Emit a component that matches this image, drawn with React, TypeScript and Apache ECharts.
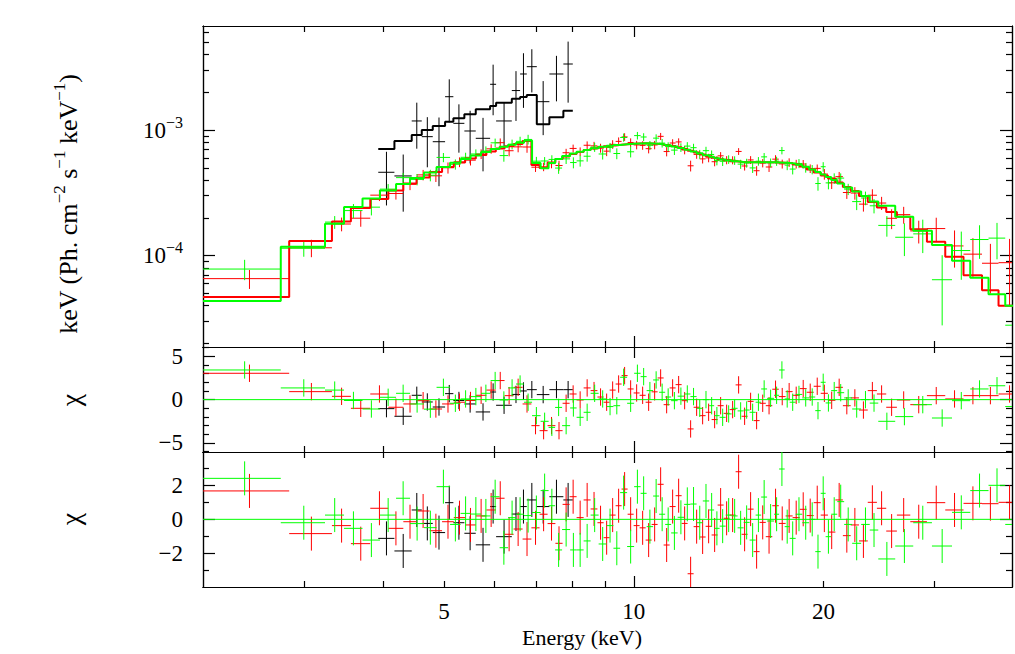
import React, { useEffect, useRef } from 'react';
import * as echarts from 'echarts';

// ---------- axis ranges ----------
const X_MIN_KEV = 2.073;
const X_MAX_KEV = 39.8;
const FLUX_MIN = 1.878e-5;
const FLUX_MAX = 6.72e-3;
const CHI1_MIN = -6.04;
const CHI1_MAX = 6.07;
const CHI2_MIN = -3.98;
const CHI2_MAX = 3.96;
const FLUX_UNIT = 1e-3; // flux arrays are in units of 1e-3 Ph cm^-2 s^-1 keV^-1 (x keV)
const CHI_ERR = 1;

// ---------- tick / label values ----------
const xMinorTicksKeV = [3, 4, 5, 6, 7, 8, 9, 20, 30];
const xMajorTicksKeV = [10];
const xTickLabelsKeV = [5, 10, 20];
const fluxMajorTicks = [1e-4, 1e-3];
const fluxMinorTicks = [2e-5, 3e-5, 4e-5, 5e-5, 6e-5, 7e-5, 8e-5, 9e-5, 2e-4, 3e-4, 4e-4, 5e-4, 6e-4, 7e-4, 8e-4, 9e-4, 2e-3, 3e-3, 4e-3, 5e-3, 6e-3];
const fluxTickLabels = [1e-4, 1e-3];
const chi1Major = [-5, 0, 5];
const chi1Minor = [-6, -4, -3, -2, -1, 1, 2, 3, 4, 6];
const chi1Labels = [-5, 0, 5];
const chi2Major = [-2, 0, 2];
const chi2Minor = [-3, -1, 1, 3];
const chi2Labels = [-2, 0, 2];

// ---------- black data set ----------
const blackEdges = [3.932, 4.171, 4.443, 4.609, 4.798, 5.019, 5.173, 5.385, 5.614, 5.916, 6.047, 6.404, 6.601, 6.764, 7.016, 7.346, 7.731, 8.002];
const blackFlux = [0.461, 0.431, 1.18, 0.885, 0.807, 1.84, 1.13, 0.982, 0.859, 2.31, 1.18, 2.06, 2.79, 3.19, 1.68, 2.79, 3.35];
const blackErr = [0.21, 0.207, 0.47, 0.38, 0.45, 0.69, 0.47, 0.44, 0.39, 1.0, 0.47, 0.88, 1.29, 1.2, 0.77, 1.1, 1.7];
const blackModel = [0.706, 0.818, 0.912, 1.0, 1.076, 1.164, 1.239, 1.333, 1.461, 1.552, 1.648, 1.774, 1.83, 1.9, 1.11, 1.262, 1.424];
const blackChi1 = [-1.04, -1.92, 0.5, -0.27, -0.85, 0.69, -0.1, -0.5, -1.42, 0.88, -0.65, 0.6, 1.0, 1.15, 0.58, 1.15, 1.15];
const blackChi2 = [-1.12, -1.86, 0.55, -0.24, -0.78, 0.98, -0.2, -0.82, -1.5, 0.75, -1.02, 0.31, 0.75, 1.14, 0.75, 1.33, 1.14];

// ---------- red data set ----------
const redEdges = [2.073, 2.84, 3.32, 3.558, 3.819, 4.079, 4.309, 4.522, 4.742, 4.964, 5.181, 5.399, 5.614, 5.836, 6.041, 6.237, 6.446, 6.661, 6.879, 7.088, 7.298, 7.509, 7.709, 7.909, 8.114, 8.325, 8.54, 8.755, 8.956, 9.154, 9.357, 9.563, 9.776, 9.993, 10.214, 10.441, 10.672, 10.908, 11.15, 11.397, 11.649, 11.908, 12.171, 12.441, 12.717, 12.998, 13.286, 13.581, 13.881, 14.189, 14.503, 14.824, 15.152, 15.488, 15.831, 16.193, 16.582, 16.98, 17.41, 17.86, 18.33, 18.8, 19.29, 19.79, 20.32, 20.88, 21.46, 22.08, 22.76, 23.5, 24.3, 25.14, 26.14, 27.45, 29.17, 31.19, 33.34, 35.67, 37.89, 41.0];
const redModel = [0.0469, 0.131, 0.187, 0.24, 0.283, 0.33, 0.375, 0.419, 0.463, 0.508, 0.551, 0.593, 0.633, 0.675, 0.713, 0.743, 0.774, 0.818, 0.527, 0.498, 0.551, 0.588, 0.616, 0.645, 0.668, 0.693, 0.713, 0.73, 0.743, 0.754, 0.763, 0.771, 0.777, 0.782, 0.784, 0.782, 0.778, 0.771, 0.76, 0.746, 0.728, 0.706, 0.683, 0.661, 0.639, 0.619, 0.601, 0.586, 0.574, 0.565, 0.558, 0.554, 0.553, 0.553, 0.553, 0.553, 0.551, 0.548, 0.543, 0.532, 0.512, 0.485, 0.459, 0.435, 0.411, 0.382, 0.352, 0.327, 0.299, 0.268, 0.242, 0.223, 0.204, 0.162, 0.129, 0.098, 0.07, 0.053, 0.04];
const redFlux = [0.0657, 0.1156, 0.1787, 0.1988, 0.3032, 0.3125, 0.3698, 0.4395, 0.432, 0.5009, 0.556, 0.5754, 0.6444, 0.7084, 0.7926, 0.6842, 0.7343, 0.7326, 0.5059, 0.51, 0.54, 0.5217, 0.6594, 0.7136, 0.6733, 0.7562, 0.7478, 0.7183, 0.6788, 0.7691, 0.8118, 0.8808, 0.7956, 0.7603, 0.7546, 0.7104, 0.7605, 0.8901, 0.6739, 0.788, 0.8039, 0.6933, 0.5191, 0.6397, 0.5892, 0.6, 0.5595, 0.6229, 0.5766, 0.5756, 0.6752, 0.5174, 0.5779, 0.4742, 0.5455, 0.5079, 0.5863, 0.5375, 0.5517, 0.5363, 0.5362, 0.4935, 0.495, 0.4459, 0.3802, 0.4255, 0.3182, 0.3151, 0.2572, 0.3028, 0.2624, 0.1984, 0.2122, 0.1575, 0.1644, 0.1196, 0.1029, 0.0871, 0.088];
const redErr = [0.0113, 0.0183, 0.0224, 0.0288, 0.0311, 0.033, 0.0375, 0.0419, 0.0463, 0.0508, 0.0496, 0.0534, 0.057, 0.0608, 0.0642, 0.0669, 0.0697, 0.0736, 0.0422, 0.0398, 0.0441, 0.047, 0.0493, 0.0516, 0.0534, 0.0554, 0.057, 0.0584, 0.0594, 0.0603, 0.061, 0.0617, 0.0622, 0.0587, 0.0588, 0.0587, 0.0584, 0.0578, 0.057, 0.056, 0.0546, 0.053, 0.0512, 0.0496, 0.0479, 0.0464, 0.0451, 0.044, 0.0431, 0.0424, 0.0419, 0.0416, 0.0415, 0.0415, 0.0415, 0.0442, 0.0441, 0.0438, 0.0434, 0.0426, 0.041, 0.0388, 0.0367, 0.0435, 0.0411, 0.0382, 0.0352, 0.036, 0.0329, 0.0348, 0.0315, 0.0357, 0.0326, 0.0324, 0.0361, 0.0392, 0.035, 0.0371, 0.048];
const redChi1 = [3.04, 0.92, 0.38, -1.0, 0.65, -0.88, -0.5, -0.12, -1.08, -0.5, -0.3, -0.1, 0.5, 1.1, 2.2, 0.46, 1.42, -0.5, -3.0, -3.58, -3.0, -3.58, -0.42, 0.65, -0.04, 1.35, 1.04, 0.3, -0.3, 1.1, 1.8, 2.77, 1.23, 0.77, 0.5, -0.3, 0.9, 2.5, -0.58, 1.35, 1.73, -0.12, -3.38, -0.88, -1.85, -1.46, -2.3, -0.7, -1.58, -1.15, 1.7, -1.92, -0.2, -2.42, -0.42, -0.7, 1.2, 0.35, 0.92, 0.5, 1.27, 0.85, 1.54, 0.73, -0.08, 1.42, -0.7, 0.2, -1.2, 1.04, 0.65, -0.88, -0.04, -0.58, 0.46, 0.08, 0.46, 0.46, 0.65];
const redChi2 = [1.67, -0.84, -0.37, -1.43, 0.65, -0.53, -0.14, 0.49, -0.67, -0.14, 0.1, -0.33, 0.2, 0.55, 1.24, -0.88, -0.57, -1.16, -0.5, 0.3, -0.25, -1.41, 0.88, 1.33, 0.1, 1.14, 0.61, -0.2, -1.08, 0.25, 0.8, 1.78, 0.3, -0.37, -0.5, -1.22, -0.3, 2.06, -1.51, 0.75, 1.39, -0.24, -3.2, -0.43, -1.04, -0.41, -0.92, 0.84, 0.06, 0.25, 2.8, -0.88, 0.6, -1.9, -0.18, -1.02, 0.8, -0.24, 0.2, 0.1, 0.59, 0.22, 0.98, 0.25, -0.75, 1.14, -0.96, -0.33, -1.27, 1.0, 0.65, -0.69, 0.25, -0.14, 0.98, 0.55, 0.94, 0.92, 1.0];

// ---------- green data set ----------
const greenEdges = [2.073, 2.754, 3.237, 3.47, 3.712, 3.957, 4.196, 4.416, 4.647, 4.865, 5.111, 5.311, 5.508, 5.724, 5.927, 6.125, 6.317, 6.504, 6.697, 6.896, 7.114, 7.325, 7.501, 7.695, 7.924, 8.114, 8.325, 8.54, 8.794, 9.055, 9.282, 9.512, 9.758, 10.011, 10.252, 10.479, 10.73, 10.968, 11.212, 11.46, 11.735, 12.017, 12.297, 12.578, 12.866, 13.166, 13.409, 13.681, 13.985, 14.294, 14.61, 14.934, 15.265, 15.603, 15.922, 16.27, 16.692, 17.0, 17.35, 17.67, 18.06, 18.5, 18.97, 19.4, 19.79, 20.15, 20.56, 21.02, 21.56, 22.2, 22.94, 23.67, 24.42, 25.98, 27.75, 29.71, 31.97, 34.17, 36.53, 38.83, 41.0];
const greenModel = [0.0436, 0.1179, 0.1797, 0.244, 0.2851, 0.3302, 0.3718, 0.4149, 0.4589, 0.5077, 0.5484, 0.5879, 0.6268, 0.6683, 0.7062, 0.7365, 0.7627, 0.791, 0.8249, 0.5463, 0.4957, 0.5463, 0.5879, 0.6211, 0.6503, 0.6708, 0.6934, 0.7152, 0.7352, 0.7488, 0.7599, 0.7696, 0.7766, 0.7823, 0.7838, 0.7823, 0.7766, 0.7683, 0.7558, 0.739, 0.719, 0.6958, 0.6745, 0.6526, 0.6303, 0.6119, 0.5964, 0.5823, 0.5718, 0.5636, 0.5574, 0.5543, 0.5534, 0.5534, 0.5534, 0.5534, 0.5513, 0.5484, 0.5454, 0.5403, 0.5285, 0.5097, 0.485, 0.4632, 0.4426, 0.4227, 0.4, 0.3753, 0.3488, 0.3243, 0.2985, 0.2699, 0.2499, 0.2043, 0.1581, 0.1217, 0.0912, 0.0668, 0.0493, 0.04];
const greenFlux = [0.0783, 0.1146, 0.1851, 0.2285, 0.2434, 0.3385, 0.4179, 0.4045, 0.4364, 0.6052, 0.5336, 0.6064, 0.6443, 0.6803, 0.7907, 0.6258, 0.7696, 0.8124, 0.8412, 0.5649, 0.5669, 0.5834, 0.498, 0.5894, 0.5508, 0.5682, 0.6185, 0.7304, 0.6446, 0.7253, 0.6501, 0.8723, 0.671, 0.9024, 0.8797, 0.7554, 0.8617, 0.7867, 0.7377, 0.6917, 0.7259, 0.7448, 0.7231, 0.6422, 0.6848, 0.6388, 0.5711, 0.5637, 0.5832, 0.5726, 0.5351, 0.5463, 0.4994, 0.5645, 0.6114, 0.549, 0.5654, 0.6864, 0.5255, 0.4889, 0.542, 0.501, 0.485, 0.3752, 0.5103, 0.3796, 0.412, 0.4143, 0.3383, 0.2694, 0.2878, 0.2495, 0.1742, 0.1402, 0.1492, 0.0644, 0.1099, 0.1345, 0.138, 0.028];
const greenErr = [0.0144, 0.0165, 0.0216, 0.0293, 0.0342, 0.033, 0.0372, 0.0415, 0.0459, 0.0508, 0.0494, 0.0529, 0.0564, 0.0601, 0.0636, 0.0663, 0.0686, 0.0712, 0.0742, 0.0464, 0.0421, 0.0464, 0.05, 0.0528, 0.0553, 0.057, 0.0589, 0.0608, 0.0625, 0.0636, 0.0646, 0.0654, 0.066, 0.0626, 0.0627, 0.0626, 0.0621, 0.0615, 0.0605, 0.0591, 0.0575, 0.0557, 0.054, 0.0522, 0.0504, 0.049, 0.0477, 0.0466, 0.0457, 0.0451, 0.0446, 0.0443, 0.0443, 0.0443, 0.0443, 0.0443, 0.0469, 0.0466, 0.0464, 0.0459, 0.0449, 0.0433, 0.0412, 0.0463, 0.0443, 0.0423, 0.04, 0.0375, 0.0349, 0.0389, 0.0358, 0.0324, 0.0325, 0.0409, 0.0443, 0.0365, 0.0456, 0.0401, 0.0444, 0.04];
const greenChi1 = [3.42, 1.35, 1.1, -0.1, -1.08, 0.27, 0.73, -0.5, -1.1, 1.42, -0.42, 0.08, 0.35, 0.73, 2.2, -0.04, 1.35, 1.8, -0.3, -1.85, -2.5, -3.2, -0.9, -3.0, -0.96, -2.04, -1.46, 0.73, 0.08, -0.8, -0.7, 2.58, -0.42, 3.04, 2.65, 1.04, 2.27, 0.85, 0.3, -0.12, 0.4, 0.65, 0.35, -1.0, 0.0, -0.7, -1.85, -2.04, -1.65, -1.0, -1.3, -1.2, -1.46, -0.3, 1.23, 0.15, 0.5, 3.42, 0.08, -0.3, 0.6, 0.2, 0.3, -1.27, 2.0, -0.38, 1.04, 0.8, 0.2, -1.08, 0.0, -0.4, -2.5, -1.96, -0.58, -2.12, -0.12, 1.23, 1.6, -0.8];
const greenChi2 = [2.41, -0.2, 0.25, -0.53, -1.22, 0.25, 1.24, -0.25, -0.49, 1.92, -0.3, 0.35, 0.31, 0.2, 1.33, -1.67, 0.1, 0.3, 0.22, 0.4, 1.69, 0.8, -1.8, -0.6, -1.8, -1.8, -1.27, 0.25, -1.45, -0.37, -1.7, 1.57, -1.6, 1.92, 1.53, -0.43, 1.37, 0.3, -0.3, -0.8, 0.12, 0.88, 0.9, -0.2, 1.08, 0.55, -0.53, -0.4, 0.25, 0.2, -0.5, -0.18, -1.22, 0.25, 1.31, -0.1, 0.3, 2.96, -0.43, -1.12, 0.3, -0.2, 0.0, -1.9, 1.53, -1.02, 0.3, 1.04, -0.3, -1.41, -0.3, -0.63, -2.33, -1.57, -0.2, -1.57, 0.41, 1.69, 2.0, -0.3];

// ---------- styling ----------
const FONT = 'Liberation Serif';
const BLACK = '#000000';
const RED = '#ff0000';
const GREEN = '#00ff00';
const AX_W = 1.2;

const lg = Math.log10;
const LX_MIN = lg(X_MIN_KEV);
const LX_MAX = lg(X_MAX_KEV);

function fluxCrossData(edges: number[], vals: number[], errs: number[]) {
  return vals.map((v, i) => {
    const lo = edges[i];
    const hi = edges[i + 1];
    const e = errs[i];
    const f = v * FLUX_UNIT;
    const fe = e * FLUX_UNIT;
    return [lg(lo), lg(hi), lg((lo + hi) / 2), lg(f), f - fe > 0 ? lg(f - fe) : -12, lg(f + fe)];
  });
}

function chiCrossData(edges: number[], vals: number[]) {
  return vals.map((v, i) => {
    const lo = edges[i];
    const hi = edges[i + 1];
    return [lg(lo), lg(hi), lg((lo + hi) / 2), v, v - CHI_ERR, v + CHI_ERR];
  });
}

function stepData(edges: number[], model: number[]) {
  const pts: number[][] = [];
  model.forEach((m, i) => {
    const y = lg(m * FLUX_UNIT);
    pts.push([lg(edges[i]), y], [lg(edges[i + 1]), y]);
  });
  return pts;
}

function crossSeries(data: number[][], color: string, axisIndex: number) {
  return {
    type: 'custom',
    xAxisIndex: axisIndex,
    yAxisIndex: axisIndex,
    clip: true,
    silent: true,
    data,
    encode: { x: [0, 1, 2], y: [3, 4, 5] },
    renderItem: (_params: any, api: any) => {
      const p1 = api.coord([api.value(0), api.value(3)]);
      const p2 = api.coord([api.value(1), api.value(3)]);
      const p3 = api.coord([api.value(2), api.value(4)]);
      const p4 = api.coord([api.value(2), api.value(5)]);
      return {
        type: 'group',
        children: [
          { type: 'line', shape: { x1: p1[0], y1: p1[1], x2: p2[0], y2: p2[1] }, style: { stroke: color, lineWidth: 1 } },
          { type: 'line', shape: { x1: p3[0], y1: p3[1], x2: p4[0], y2: p4[1] }, style: { stroke: color, lineWidth: 1 } },
        ],
      };
    },
  };
}

function stepSeries(data: number[][], color: string, axisIndex: number) {
  return {
    type: 'line',
    xAxisIndex: axisIndex,
    yAxisIndex: axisIndex,
    data,
    symbol: 'none',
    clip: true,
    silent: true,
    lineStyle: { color, width: 2 },
    itemStyle: { color },
  };
}

function zeroSeries(axisIndex: number) {
  return {
    type: 'line',
    xAxisIndex: axisIndex,
    yAxisIndex: axisIndex,
    data: [[LX_MIN, 0], [LX_MAX, 0]],
    symbol: 'none',
    silent: true,
    lineStyle: { color: GREEN, width: 1 },
  };
}

const lineStyle = { color: BLACK, width: AX_W };

function makeX(grid: number, withLabels: boolean) {
  const mk = (pos: string, ticks: number[], len: number, label: boolean) => ({
    type: 'value',
    gridIndex: grid,
    position: pos,
    min: LX_MIN,
    max: LX_MAX,
    splitLine: { show: false },
    axisLine: { show: true, onZero: false, lineStyle },
    axisTick: { show: true, inside: true, length: len, customValues: ticks, lineStyle },
    axisLabel: label
      ? {
          show: true,
          customValues: xTickLabelsKeV.map(lg),
          formatter: (v: number) => String(Math.round(Math.pow(10, v))),
          fontFamily: FONT,
          fontSize: 23,
          color: BLACK,
          margin: 13,
        }
      : { show: false },
  });
  const minor = xMinorTicksKeV.map(lg);
  const major = xMajorTicksKeV.map(lg);
  return [mk('bottom', minor, 6, withLabels), mk('bottom', major, 11, false), mk('top', minor, 6, false), mk('top', major, 11, false)];
}

function makeY(grid: number, min: number, max: number, minor: number[], major: number[], labels: number[], fmt: (v: number) => string, rich?: any) {
  const mk = (pos: string, ticks: number[], len: number, label: boolean) => ({
    type: 'value',
    gridIndex: grid,
    position: pos,
    min,
    max,
    splitLine: { show: false },
    axisLine: { show: true, onZero: false, lineStyle },
    axisTick: { show: true, inside: true, length: len, customValues: ticks, lineStyle },
    axisLabel: label
      ? {
          show: true,
          customValues: labels,
          formatter: fmt,
          fontFamily: FONT,
          fontSize: 23,
          color: BLACK,
          margin: 20,
          ...(rich ? { lineHeight: 32, rich } : {}),
        }
      : { show: false },
  });
  return [mk('left', minor, 6, true), mk('left', major, 12, false), mk('right', minor, 6, false), mk('right', major, 12, false)];
}

const supRich = { sup: { fontSize: 16, lineHeight: 16, verticalAlign: 'top', fontFamily: FONT, color: BLACK } };
const signed = (v: number) => (v < 0 ? '\u2212' + Math.abs(Math.round(v)) : String(Math.round(v)));

function buildOption() {
  const xAxis = [...makeX(0, false), ...makeX(1, false), ...makeX(2, true)];
  const yAxis = [
    ...makeY(0, lg(FLUX_MIN), lg(FLUX_MAX), fluxMinorTicks.map(lg), fluxMajorTicks.map(lg), fluxTickLabels.map(lg), (v: number) => '10{sup|\u2212' + Math.round(-v) + '}', supRich),
    ...makeY(1, CHI1_MIN, CHI1_MAX, chi1Minor, chi1Major, chi1Labels, signed),
    ...makeY(2, CHI2_MIN, CHI2_MAX, chi2Minor, chi2Major, chi2Labels, signed),
  ];
  const TOP = 0;
  const MID = 4;
  const BOT = 8;
  const series = [
    crossSeries(fluxCrossData(blackEdges, blackFlux, blackErr), BLACK, TOP),
    crossSeries(fluxCrossData(redEdges, redFlux, redErr), RED, TOP),
    crossSeries(fluxCrossData(greenEdges, greenFlux, greenErr), GREEN, TOP),
    stepSeries(stepData(blackEdges, blackModel), BLACK, TOP),
    stepSeries(stepData(redEdges, redModel), RED, TOP),
    stepSeries(stepData(greenEdges, greenModel), GREEN, TOP),
    zeroSeries(MID),
    crossSeries(chiCrossData(blackEdges, blackChi1), BLACK, MID),
    crossSeries(chiCrossData(redEdges, redChi1), RED, MID),
    crossSeries(chiCrossData(greenEdges, greenChi1), GREEN, MID),
    zeroSeries(BOT),
    crossSeries(chiCrossData(blackEdges, blackChi2), BLACK, BOT),
    crossSeries(chiCrossData(redEdges, redChi2), RED, BOT),
    crossSeries(chiCrossData(greenEdges, greenChi2), GREEN, BOT),
  ];
  return {
    animation: false,
    backgroundColor: '#ffffff',
    textStyle: { fontFamily: FONT },
    grid: [
      { left: 203, width: 809, top: 26, height: 321 },
      { left: 203, width: 809, top: 347, height: 105 },
      { left: 203, width: 809, top: 452, height: 135 },
    ],
    xAxis,
    yAxis,
    series,
    graphic: [
      {
        type: 'text',
        x: 68,
        y: 204,
        rotation: Math.PI / 2,
        style: {
          text: 'keV (Ph. cm{sup|\u22122} s{sup|\u22121} keV{sup|\u22121})',
          fontFamily: FONT,
          fontSize: 26,
          lineHeight: 34,
          fill: BLACK,
          align: 'center',
          verticalAlign: 'middle',
          rich: { sup: { fontSize: 17, lineHeight: 17, verticalAlign: 'top', fontFamily: FONT, fill: BLACK } },
        },
      },
      { type: 'text', x: 70, y: 400, rotation: Math.PI / 2, style: { text: '\u03c7', fontFamily: FONT, fontSize: 28, fill: BLACK, align: 'center', verticalAlign: 'middle' } },
      { type: 'text', x: 70, y: 519, rotation: Math.PI / 2, style: { text: '\u03c7', fontFamily: FONT, fontSize: 28, fill: BLACK, align: 'center', verticalAlign: 'middle' } },
      { type: 'text', x: 582, y: 637, style: { text: 'Energy (keV)', fontFamily: FONT, fontSize: 22, fill: BLACK, align: 'center', verticalAlign: 'middle' } },
    ],
  };
}

export default function App() {
  const ref = useRef<HTMLDivElement>(null);
  useEffect(() => {
    if (!ref.current) return;
    const chart = echarts.init(ref.current, null, { renderer: 'svg' });
    chart.setOption(buildOption() as any);
    return () => chart.dispose();
  }, []);
  return <div ref={ref} style={{ position: 'fixed', left: 0, top: 0, width: 1015, height: 654, background: '#fff' }} />;
}
